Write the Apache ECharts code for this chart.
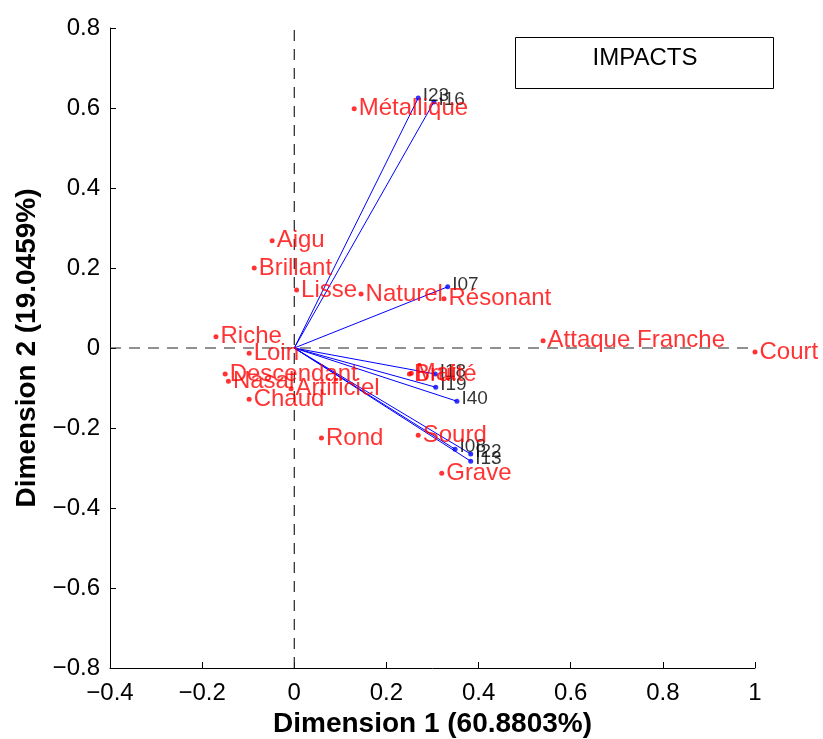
<!DOCTYPE html>
<html>
<head>
<meta charset="utf-8">
<script src="https://cdn.jsdelivr.net/npm/echarts@6/dist/echarts.min.js"></script>
<style>html,body{margin:0;padding:0;background:#fff;}#c{width:823px;height:739px;}</style>
</head>
<body>
<div id="c"></div>
<script>
// Attribute points (red)
const attrNames = ['Métallique','Aigu','Brillant','Lisse','Naturel','Résonant','Riche','Loin','Descendant','Nasal','Artificiel','Chaud','Bruité','Mat','Rond','Sourd','Grave','Attaque Franche','Court'];
const attrX = [0.130,-0.048,-0.087,0.005,0.145,0.325,-0.170,-0.098,-0.150,-0.143,-0.007,-0.098,0.250,0.254,0.059,0.269,0.320,0.540,1.000];
const attrY = [0.598,0.268,0.200,0.145,0.135,0.123,0.028,-0.013,-0.065,-0.083,-0.102,-0.128,-0.065,-0.063,-0.225,-0.218,-0.313,0.018,-0.010];
// Impact vectors (blue)
const impNames = ['I23','I16','I07','I18','I19','I40','I08','I22','I13'];
const impX = [0.269,0.303,0.333,0.306,0.307,0.353,0.349,0.383,0.383];
const impY = [0.625,0.615,0.153,-0.065,-0.098,-0.133,-0.253,-0.265,-0.283];
// Axes
const xTicks = {min:-0.4, max:1, interval:0.2};
const yTicks = {min:-0.8, max:0.8, interval:0.2};
const xTitle = 'Dimension 1 (60.8803%)';
const yTitle = 'Dimension 2 (19.0459%)';
const boxTitle = 'IMPACTS';

const FONT = 'Liberation Sans';
function fmt(v){
  let r = Math.round(v*10)/10;
  if (Math.abs(r) < 1e-9) return '0';
  let s = String(Math.abs(r));
  return (r < 0 ? '\u2212' : '') + s;
}

const series = [];
// dashed reference lines
series.push({type:'line', data:[[xTicks.min,0],[xTicks.max,0]], symbol:'none', silent:true,
  lineStyle:{color:'#222', width:1.2, type:[11,8]}, z:1});
series.push({type:'line', data:[[0,yTicks.min],[0,yTicks.max]], symbol:'none', silent:true,
  lineStyle:{color:'#222', width:1.2, type:[11,8]}, z:1});
// vectors
impNames.forEach((n,i)=>{
  series.push({type:'line', data:[[0,0],[impX[i],impY[i]]], symbol:'none', silent:true,
    lineStyle:{color:'#0000ff', width:1}, z:2});
});
series.push({type:'scatter', symbolSize:5, itemStyle:{color:'#0000ff'}, z:3,
  data: impNames.map((n,i)=>({name:n, value:[impX[i],impY[i]]})),
  label:{show:true, position:'right', distance:2, formatter:'{b}', color:'#000', fontSize:19, fontFamily:FONT, offset:[0,-2]}
});
series.push({type:'scatter', symbolSize:5, itemStyle:{color:'#ff0000'}, z:4,
  data: attrNames.map((n,i)=>({name:n, value:[attrX[i],attrY[i]]})),
  label:{show:true, position:'right', distance:2, formatter:'{b}', color:'#ff0000', fontSize:24, fontFamily:FONT, offset:[0,-2]},
  labelLayout:{hideOverlap:false}
});

const chart = echarts.init(document.getElementById('c'), null, {renderer:'canvas'});
chart.setOption({
  animation:false,
  backgroundColor:'#fff',
  textStyle:{fontFamily:FONT},
  grid:{left:110, right:68, top:28, bottom:71, containLabel:false, outerBoundsMode:'none'},
  xAxis:{type:'value', min:xTicks.min, max:xTicks.max, interval:xTicks.interval,
    name:xTitle, nameLocation:'middle', nameGap:40,
    nameTextStyle:{fontSize:28, fontWeight:'bold', color:'#000', fontFamily:FONT},
    axisLine:{show:true, onZero:false, lineStyle:{color:'#000', width:1}},
    axisTick:{show:true, inside:true, length:6, lineStyle:{color:'#000'}},
    axisLabel:{formatter:fmt, fontSize:24, color:'#000', margin:13, fontFamily:FONT},
    splitLine:{show:false}
  },
  yAxis:{type:'value', min:yTicks.min, max:yTicks.max, interval:yTicks.interval,
    name:yTitle, nameLocation:'middle', nameGap:69,
    nameTextStyle:{fontSize:28, fontWeight:'bold', color:'#000', fontFamily:FONT},
    axisLine:{show:true, onZero:false, lineStyle:{color:'#000', width:1}},
    axisTick:{show:true, inside:true, length:6, lineStyle:{color:'#000'}},
    axisLabel:{formatter:fmt, fontSize:24, color:'#000', margin:10, fontFamily:FONT},
    splitLine:{show:false}
  },
  graphic:[
    {type:'rect', shape:{x:515.5, y:37.5, width:258, height:51}, style:{fill:'#fff', stroke:'#000', lineWidth:1}, z:10},
    {type:'text', x:645, y:58, style:{text:boxTitle, fontSize:24, fill:'#000', align:'center', verticalAlign:'middle', fontFamily:FONT}, z:11}
  ],
  series:series
});
</script>
</body>
</html>
